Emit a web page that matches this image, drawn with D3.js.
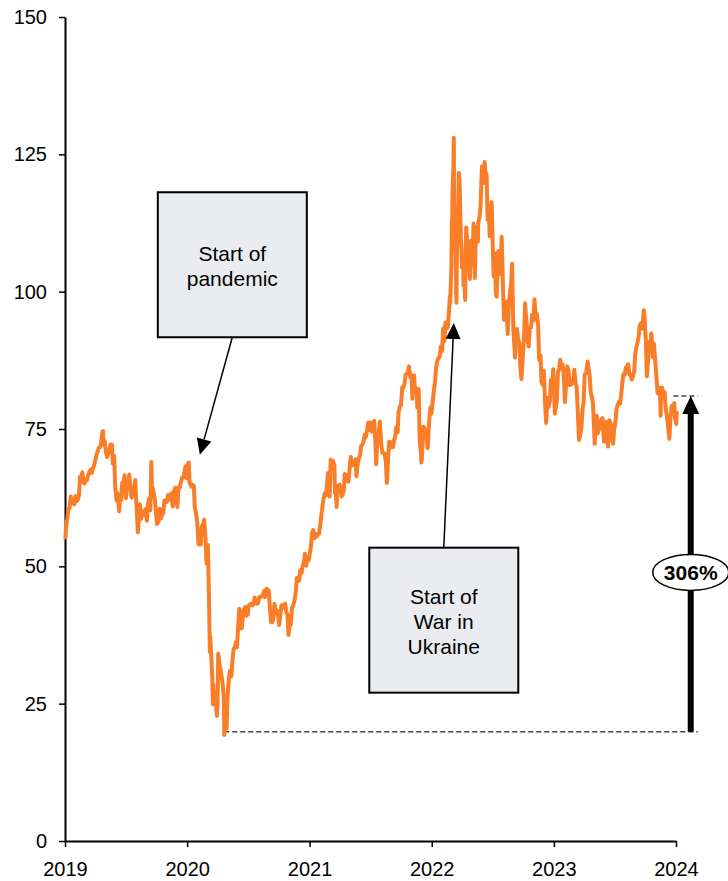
<!DOCTYPE html>
<html lang="en">
<head>
<meta charset="utf-8" />
<title>Brent price</title>
<script src="https://d3js.org/d3.v7.min.js"></script>
<style>
  body { margin: 0; background: #fff; }
  svg { font-family: "Liberation Sans", Arial, sans-serif; }
  .line { fill: none; stroke: #fa7d28; stroke-width: 4px; stroke-linejoin: round; }
  .axis text { font-size: 20px; fill: #000; }
  .axis path { stroke: #000; stroke-width: 2px; }
  .axis line { stroke: #000; stroke-width: 1.5px; }
  .note rect { fill: #ebecef; stroke: #000; stroke-width: 2px; }
  .note text { font-size: 21px; fill: #000; text-anchor: middle; }
  .dash { stroke: #444; stroke-width: 1.5px; stroke-dasharray: 5,3; }
</style>
</head>
<body>
<script>

// price observations, [month-day, price] per year
var y2019 = [["01-02",54.9],["01-04",57.1],["01-08",58.7],["01-11",60.5],["01-15",60.6],["01-18",62.7],["01-22",61.5],["01-25",61.6],["01-29",61.3],["02-01",62.8],["02-05",61.9],["02-08",62.1],["02-12",63.0],["02-15",66.3],["02-19",66.5],["02-22",67.1],["02-26",65.2],["03-01",65.1],["03-05",65.9],["03-08",65.7],["03-12",66.7],["03-15",67.2],["03-19",67.6],["03-22",67.0],["03-26",67.9],["03-29",68.4],["04-02",69.4],["04-05",70.3],["04-09",71.0],["04-12",71.6],["04-16",71.7],["04-18",72.0],["04-23",74.5],["04-25",74.6],["04-26",72.2],["04-30",72.8],["05-03",70.9],["05-07",69.9],["05-10",70.6],["05-14",71.2],["05-17",72.2],["05-21",72.2],["05-24",68.7],["05-28",70.1],["05-31",64.5],["06-04",62.0],["06-07",63.3],["06-12",60.0],["06-14",62.0],["06-18",62.1],["06-21",65.2],["06-25",65.1],["06-28",66.6],["07-02",62.4],["07-05",64.2],["07-09",64.2],["07-12",66.7],["07-16",64.4],["07-19",62.5],["07-23",63.8],["07-26",63.5],["07-30",65.7],["08-02",61.9],["08-07",56.2],["08-09",58.5],["08-13",61.3],["08-16",58.6],["08-20",60.0],["08-23",59.3],["08-27",60.0],["08-30",60.4],["09-03",58.3],["09-06",61.5],["09-10",62.4],["09-13",60.2],["09-16",69.0],["09-18",63.6],["09-20",64.3],["09-24",63.1],["09-27",61.9],["10-01",59.0],["10-03",57.7],["10-08",58.2],["10-11",60.5],["10-15",58.7],["10-18",59.4],["10-22",59.7],["10-25",62.0],["10-29",61.6],["11-01",61.7],["11-05",63.0],["11-08",62.5],["11-12",62.1],["11-15",63.3],["11-19",60.9],["11-22",63.4],["11-26",64.3],["11-29",62.4],["12-03",60.8],["12-06",64.4],["12-10",64.3],["12-13",65.2],["12-17",66.1],["12-20",66.1],["12-24",67.2],["12-27",68.2],["12-31",66.0]];

var y2020 = [["01-03",68.6],["01-06",68.9],["01-08",65.4],["01-10",65.0],["01-14",64.5],["01-17",64.9],["01-21",64.6],["01-24",60.7],["01-28",59.5],["01-31",58.2],["02-04",54.0],["02-07",54.5],["02-11",54.0],["02-14",57.3],["02-18",57.7],["02-21",58.5],["02-25",55.0],["02-28",50.5],["03-03",53.9],["03-06",45.3],["03-09",34.4],["03-10",37.2],["03-13",33.9],["03-16",30.1],["03-18",24.9],["03-19",28.5],["03-20",27.0],["03-24",27.2],["03-27",24.9],["03-30",22.8],["04-01",24.7],["04-02",29.9],["04-03",34.1],["04-07",31.9],["04-09",31.5],["04-14",29.6],["04-17",28.1],["04-20",25.6],["04-21",19.3],["04-22",20.4],["04-24",21.4],["04-28",20.5],["04-30",25.3],["05-01",26.4],["05-05",29.7],["05-08",31.0],["05-12",30.0],["05-15",32.5],["05-19",35.0],["05-22",35.1],["05-26",36.2],["05-29",35.3],["06-02",39.6],["06-05",42.3],["06-09",41.2],["06-12",38.7],["06-16",41.0],["06-19",42.2],["06-23",42.6],["06-26",41.0],["06-30",41.2],["07-03",42.8],["07-07",43.1],["07-10",43.2],["07-14",42.9],["07-17",43.1],["07-21",44.3],["07-24",43.3],["07-28",43.2],["07-31",43.3],["08-04",44.4],["08-07",44.4],["08-11",44.5],["08-14",44.8],["08-18",45.5],["08-21",44.4],["08-25",45.9],["08-28",45.8],["09-01",45.6],["09-04",42.7],["09-08",39.8],["09-11",39.8],["09-15",40.5],["09-18",43.2],["09-22",41.7],["09-25",41.9],["09-29",41.0],["10-02",39.3],["10-06",41.3],["10-09",42.9],["10-13",42.5],["10-16",42.9],["10-20",43.2],["10-23",41.8],["10-27",41.2],["10-30",37.5],["11-02",39.0],["11-06",39.5],["11-09",42.4],["11-13",42.8],["11-17",43.8],["11-20",45.0],["11-24",47.9],["11-27",47.9],["12-01",47.4],["12-04",49.3],["12-08",48.8],["12-11",50.0],["12-15",50.8],["12-18",52.3],["12-22",50.1],["12-24",51.3],["12-29",51.1],["12-31",51.8]];

var y2021 = [["01-05",53.6],["01-08",56.0],["01-12",56.6],["01-15",55.1],["01-19",55.9],["01-22",55.4],["01-26",55.9],["01-29",55.9],["02-02",57.5],["02-05",59.3],["02-09",61.1],["02-12",62.4],["02-16",63.4],["02-19",62.9],["02-23",65.4],["02-25",67.0],["02-26",66.1],["03-02",62.7],["03-05",69.4],["03-08",68.2],["03-10",67.9],["03-12",69.2],["03-16",68.4],["03-18",63.3],["03-19",64.5],["03-23",60.8],["03-24",64.4],["03-26",64.6],["03-30",64.1],["04-01",64.9],["04-06",62.7],["04-09",63.0],["04-13",63.7],["04-16",66.8],["04-20",66.6],["04-23",66.1],["04-27",65.4],["04-30",67.3],["05-04",69.9],["05-07",68.3],["05-11",68.6],["05-14",68.7],["05-18",69.5],["05-21",66.4],["05-25",68.7],["05-28",69.6],["06-01",70.3],["06-04",71.9],["06-08",72.2],["06-11",72.7],["06-15",74.0],["06-18",73.5],["06-22",74.8],["06-25",76.2],["06-29",74.8],["07-02",76.2],["07-06",74.5],["07-09",75.6],["07-13",76.5],["07-16",73.6],["07-19",68.6],["07-23",74.1],["07-27",74.5],["07-30",76.3],["08-03",72.4],["08-06",70.7],["08-10",70.6],["08-13",70.6],["08-17",69.0],["08-20",65.2],["08-24",70.1],["08-27",72.7],["08-31",71.6],["09-03",72.6],["09-07",71.7],["09-10",72.9],["09-14",73.6],["09-17",75.3],["09-21",74.4],["09-24",78.1],["09-28",79.1],["10-01",79.3],["10-05",82.6],["10-08",82.4],["10-12",83.4],["10-15",84.9],["10-19",85.1],["10-22",85.5],["10-25",86.4],["10-29",84.4],["11-02",84.7],["11-04",80.5],["11-05",82.7],["11-09",84.8],["11-12",82.2],["11-16",82.4],["11-19",78.9],["11-23",82.3],["11-26",72.7],["11-30",70.6],["12-01",68.9],["12-03",69.9],["12-07",75.4],["12-10",75.2],["12-14",73.7],["12-17",73.5],["12-20",71.5],["12-24",76.1],["12-28",78.9],["12-31",77.8]];

var y2022 = [["01-04",80.0],["01-07",81.8],["01-11",83.7],["01-14",86.1],["01-18",87.5],["01-21",87.9],["01-25",88.2],["01-28",90.0],["02-01",89.2],["02-04",93.3],["02-08",91.0],["02-11",94.4],["02-15",93.3],["02-18",93.5],["02-22",96.8],["02-24",99.1],["02-25",97.9],["03-01",105.0],["03-02",112.9],["03-03",110.5],["03-04",118.1],["03-07",123.2],["03-08",128.0],["03-09",111.1],["03-10",109.3],["03-11",112.7],["03-14",106.9],["03-15",99.9],["03-16",98.0],["03-17",106.6],["03-18",107.9],["03-21",115.6],["03-23",121.6],["03-24",119.0],["03-25",120.7],["03-28",112.5],["03-29",110.2],["03-31",107.9],["04-01",104.4],["04-05",106.6],["04-06",101.1],["04-08",102.8],["04-11",98.5],["04-12",104.6],["04-14",111.7],["04-19",107.3],["04-21",108.3],["04-25",102.3],["04-28",107.6],["04-29",109.3],["05-03",105.0],["05-06",112.4],["05-10",102.5],["05-13",111.6],["05-17",111.9],["05-19",109.1],["05-20",112.6],["05-24",113.6],["05-27",115.6],["05-31",122.8],["06-03",119.7],["06-08",123.6],["06-10",122.0],["06-14",121.2],["06-17",113.1],["06-21",114.7],["06-23",110.1],["06-24",113.1],["06-29",116.3],["07-01",111.6],["07-05",102.8],["07-08",107.0],["07-12",99.5],["07-14",99.1],["07-15",101.2],["07-19",107.4],["07-22",103.2],["07-26",104.4],["07-29",110.0],["08-02",100.5],["08-05",94.9],["08-09",96.3],["08-12",98.2],["08-16",92.3],["08-19",96.7],["08-23",100.2],["08-26",101.0],["08-29",105.1],["09-02",93.0],["09-07",88.0],["09-09",92.8],["09-13",93.2],["09-16",91.4],["09-20",90.6],["09-23",86.2],["09-26",84.1],["09-30",88.0],["10-04",91.8],["10-07",97.9],["10-11",94.3],["10-14",91.6],["10-18",90.0],["10-21",93.5],["10-25",93.5],["10-28",95.8],["11-01",94.7],["11-04",98.6],["11-08",95.4],["11-11",96.0],["11-15",93.9],["11-18",87.6],["11-22",88.4],["11-25",83.6],["11-29",83.0],["12-02",85.6],["12-06",79.4],["12-09",76.1],["12-13",80.7],["12-16",79.0],["12-20",80.0],["12-23",83.9],["12-28",83.3],["12-30",85.9]];

var y2023 = [["01-04",77.8],["01-06",78.6],["01-10",80.1],["01-13",85.3],["01-17",85.9],["01-20",87.6],["01-24",86.1],["01-27",86.7],["01-31",84.5],["02-03",79.9],["02-07",83.7],["02-10",86.4],["02-14",85.6],["02-17",83.0],["02-21",83.1],["02-24",83.2],["02-28",83.9],["03-03",85.8],["03-07",83.3],["03-10",82.8],["03-14",77.5],["03-17",73.0],["03-20",73.8],["03-24",75.0],["03-28",78.7],["03-31",79.8],["04-03",84.9],["04-07",85.1],["04-12",87.3],["04-14",86.3],["04-18",84.8],["04-21",81.7],["04-25",80.8],["04-28",79.5],["05-03",72.3],["05-05",75.3],["05-09",77.4],["05-12",74.2],["05-16",75.0],["05-19",75.6],["05-23",76.8],["05-26",77.0],["05-31",72.7],["06-02",76.1],["06-06",76.3],["06-09",74.8],["06-12",71.8],["06-16",76.6],["06-20",75.9],["06-23",73.9],["06-27",72.3],["06-30",74.9],["07-04",76.3],["07-07",78.5],["07-11",79.4],["07-14",79.9],["07-18",79.6],["07-21",81.1],["07-25",83.6],["07-28",85.0],["08-01",84.9],["08-04",86.2],["08-08",86.2],["08-11",86.8],["08-15",84.9],["08-18",84.8],["08-22",84.0],["08-25",84.5],["08-29",85.5],["09-01",88.6],["09-05",90.0],["09-08",90.7],["09-12",92.1],["09-15",93.9],["09-19",94.3],["09-22",93.3],["09-27",96.6],["09-29",95.3],["10-03",91.0],["10-06",84.6],["10-10",87.7],["10-13",90.9],["10-17",89.9],["10-19",92.4],["10-20",92.2],["10-24",88.1],["10-27",90.5],["10-31",87.4],["11-03",84.9],["11-07",81.6],["11-10",81.4],["11-14",82.5],["11-16",77.4],["11-17",80.6],["11-21",82.5],["11-24",80.6],["11-28",81.7],["12-01",78.9],["12-05",77.2],["12-08",75.8],["12-12",73.2],["12-15",76.6],["12-19",79.2],["12-22",79.1],["12-27",79.7],["12-29",77.0]];

var y2024 = [["01-02",75.9],["01-03",78.3]];

var yearTicks = [2019, 2020, 2021, 2022, 2023, 2024];
var valueTicks = [0, 25, 50, 75, 100, 125, 150];

// callouts: text lines, box centre and arrow tip in data terms
var notes = [
  { lines: ["Start of", "pandemic"], boxDate: "2020-05-15", boxValue: 104.9, tipDate: "2020-02-08", tipValue: 70.3 },
  { lines: ["Start of", "War in", "Ukraine"], boxDate: "2022-02-06", boxValue: 40.2, tipDate: "2022-03-08", tipValue: 94.3 }
];

// rise from the low to the latest level
var rise = { label: "306%", low: 19.9, high: 81, lowDate: "2020-04-21", arrowDate: "2024-02-14", endDate: "2024-03-06", topStart: "2023-12-24", labelValue: 48.9 };

var parseDate = d3.timeParse("%Y-%m-%d");

var data = [[2019, y2019], [2020, y2020], [2021, y2021], [2022, y2022], [2023, y2023], [2024, y2024]]
  .flatMap(function(d) {
    return d[1].map(function(r) { return { date: parseDate(d[0] + "-" + r[0]), value: r[1] }; });
  });

var width = 728, height = 881;
var margin = { top: 17, right: 52, bottom: 40, left: 65 };

var x = d3.scaleTime()
    .domain([new Date(2019, 0, 1), new Date(2024, 0, 1)])
    .range([margin.left, width - margin.right]);
var y = d3.scaleLinear()
    .domain([0, 150])
    .range([height - margin.bottom, margin.top]);

var svg = d3.select("body").append("svg")
    .attr("width", width)
    .attr("height", height);

// axes
svg.append("g")
    .attr("class", "axis")
    .attr("transform", "translate(" + margin.left + ",0)")
    .call(d3.axisLeft(y).tickValues(valueTicks).tickSize(6).tickSizeOuter(0).tickPadding(12));

svg.append("g")
    .attr("class", "axis")
    .attr("transform", "translate(0," + (height - margin.bottom) + ")")
    .call(d3.axisBottom(x)
      .tickValues(yearTicks.map(function(d) { return new Date(d, 0, 1); }))
      .tickFormat(d3.timeFormat("%Y"))
      .tickSize(6).tickSizeOuter(0).tickPadding(15));

// dashed guides for the rise
var xLow = x(parseDate(rise.lowDate)), xEnd = x(parseDate(rise.endDate));
var xArrow = x(parseDate(rise.arrowDate));
svg.append("line").attr("class", "dash")
    .attr("x1", xLow).attr("x2", xEnd)
    .attr("y1", y(rise.low)).attr("y2", y(rise.low));
svg.append("line").attr("class", "dash")
    .attr("x1", x(parseDate(rise.topStart))).attr("x2", xEnd)
    .attr("y1", y(rise.high)).attr("y2", y(rise.high));

// price line
var valueline = d3.line()
    .x(function(d) { return x(d.date); })
    .y(function(d) { return y(d.value); });

svg.append("path")
    .datum(data)
    .attr("class", "line")
    .attr("d", valueline);

// arrow helper: shaft plus a filled head
function arrow(g, x1, y1, x2, y2, headLen, headHalf, w) {
  var dx = x2 - x1, dy = y2 - y1, len = Math.sqrt(dx * dx + dy * dy);
  var ux = dx / len, uy = dy / len;
  var bx = x2 - ux * headLen, by = y2 - uy * headLen;
  g.append("line")
    .attr("x1", x1).attr("y1", y1).attr("x2", bx).attr("y2", by)
    .attr("stroke", "#000").attr("stroke-width", w);
  g.append("path")
    .attr("d", "M" + x2 + "," + y2 +
      "L" + (bx - uy * headHalf) + "," + (by + ux * headHalf) +
      "L" + (bx + uy * headHalf) + "," + (by - ux * headHalf) + "Z")
    .attr("fill", "#000");
}

// callout boxes
var boxW = 149, boxH = 145;
notes.forEach(function(n) {
  var cx = x(parseDate(n.boxDate)), cy = y(n.boxValue);
  var tx = x(parseDate(n.tipDate)), ty = y(n.tipValue);
  var g = svg.append("g").attr("class", "note");
  var sy = ty > cy ? cy + boxH / 2 : cy - boxH / 2;
  arrow(g, cx, sy, tx, ty, 16, 7.5, 1.5);
  g.append("rect")
    .attr("x", cx - boxW / 2).attr("y", cy - boxH / 2)
    .attr("width", boxW).attr("height", boxH);
  var k = n.lines.length;
  n.lines.forEach(function(t, i) {
    g.append("text")
      .attr("x", cx)
      .attr("y", cy + (i - (k - 1) / 2) * 25 + 9)
      .text(t);
  });
});

// rise arrow and label
var rg = svg.append("g");
arrow(rg, xArrow, y(rise.low), xArrow, y(rise.high), 18, 8.5, 6);
rg.append("ellipse")
    .attr("cx", xArrow).attr("cy", y(rise.labelValue))
    .attr("rx", 38).attr("ry", 18)
    .attr("fill", "#fff").attr("stroke", "#000").attr("stroke-width", 1.5);
rg.append("text")
    .attr("x", xArrow).attr("y", y(rise.labelValue))
    .attr("dy", "0.35em")
    .attr("text-anchor", "middle")
    .attr("font-size", "21px")
    .attr("font-weight", "bold")
    .text(rise.label);

</script>
</body>
</html>
